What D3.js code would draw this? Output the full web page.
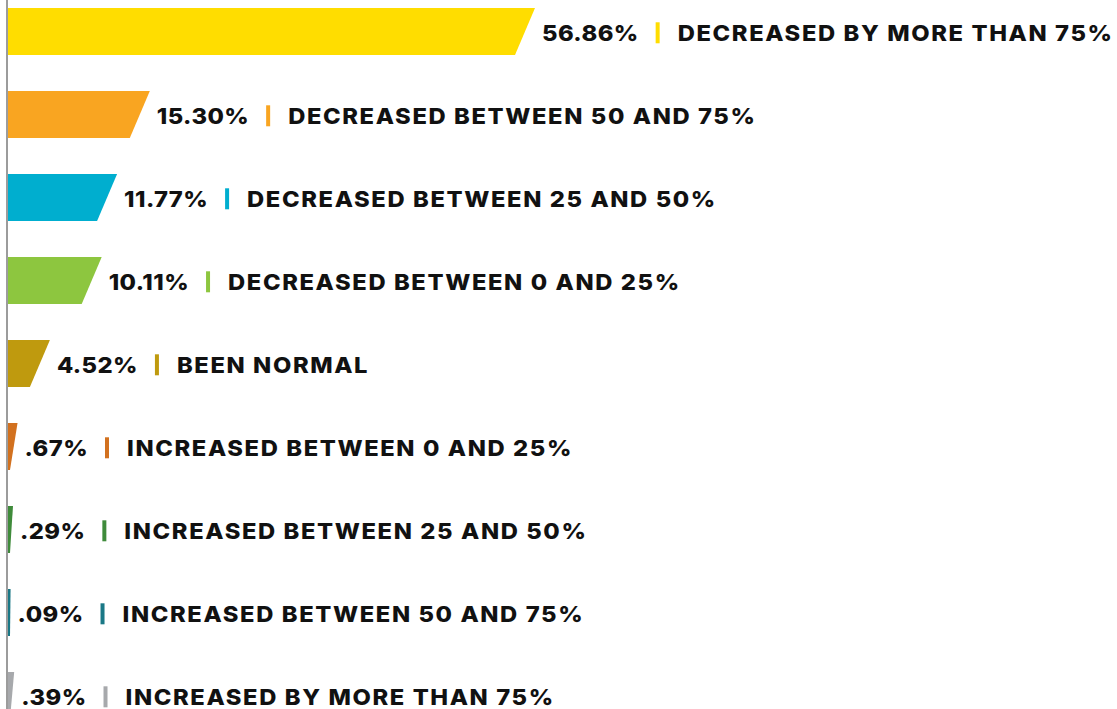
<!DOCTYPE html>
<html><head><meta charset="utf-8">
<script src="https://cdn.jsdelivr.net/npm/d3@7"></script>
<style>body{margin:0;background:#fff;overflow:hidden}</style>
</head><body>
<svg id="c" width="1117" height="709"></svg>
<script>
const categories = ["DECREASED BY MORE THAN 75%","DECREASED BETWEEN 50 AND 75%","DECREASED BETWEEN 25 AND 50%","DECREASED BETWEEN 0 AND 25%","BEEN NORMAL","INCREASED BETWEEN 0 AND 25%","INCREASED BETWEEN 25 AND 50%","INCREASED BETWEEN 50 AND 75%","INCREASED BY MORE THAN 75%"];
const values = [56.86, 15.30, 11.77, 10.11, 4.52, 0.67, 0.29, 0.09, 0.39];
const valueLabels = ["56.86%","15.30%","11.77%","10.11%","4.52%",".67%",".29%",".09%",".39%"];
const colors = ["#FFDD00","#F9A521","#00AECF","#8DC63F","#BF9A0E","#D2711F","#3F8B3B","#1A7886","#A7A9AC"];

const svg = d3.select("#c");
const x0 = 8;
const x = d3.scaleLinear().domain([0, 56.86]).range([x0, 535]);
const y = d3.scaleBand().domain(categories).range([8, 719]).paddingInner(0.434).paddingOuter(0);
const bw = y.bandwidth();
const slant = 20;

const data = categories.map((c,i)=>({c, v: values[i], lab: valueLabels[i], col: colors[i]}));

svg.append("line").attr("x1",7).attr("x2",7).attr("y1",0).attr("y2",709)
  .attr("stroke","#9c9c9c").attr("stroke-width",2);

const g = svg.selectAll("g.row").data(data).enter().append("g").attr("class","row");

function topX(d){ return d.v < 1 ? x0 + 1.5 + d.v*12 : x(d.v); }
function botX(d){ const t = topX(d); return Math.max(t - slant, x0 + Math.min(2, t - x0)); }

g.append("path")
  .attr("d", d => {
    const yt = y(d.c), yb = y(d.c) + bw;
    return `M${x0},${yt}L${topX(d)},${yt}L${botX(d)},${yb}L${x0},${yb}Z`;
  })
  .attr("fill", d => d.col);

const font = "Inter, 'DejaVu Sans', sans-serif";
const fs = 22, sX = 1.08;
g.each(function(d){
  const gg = d3.select(this);
  const base = y(d.c) + bw/2 + 9.8;
  const tx = topX(d) + 7;
  const t1 = gg.append("text").attr("transform", `translate(${tx},${base}) scale(${sX},1)`)
    .attr("font-family", font).attr("font-weight", 800).attr("font-size", fs)
    .attr("letter-spacing", "0.4px").attr("fill", "#111").text(d.lab);
  const w1 = t1.node().getComputedTextLength() * sX;
  const sx = tx + w1 + 17;
  gg.append("rect").attr("x", sx).attr("y", base - 19).attr("width", 4).attr("height", 21).attr("fill", d.col);
  gg.append("text").attr("transform", `translate(${sx + 22},${base}) scale(${sX},1)`)
    .attr("font-family", font).attr("font-weight", 800).attr("font-size", fs)
    .attr("letter-spacing", "1.5px").attr("fill", "#111").text(d.c);
});
</script>
</body></html>
